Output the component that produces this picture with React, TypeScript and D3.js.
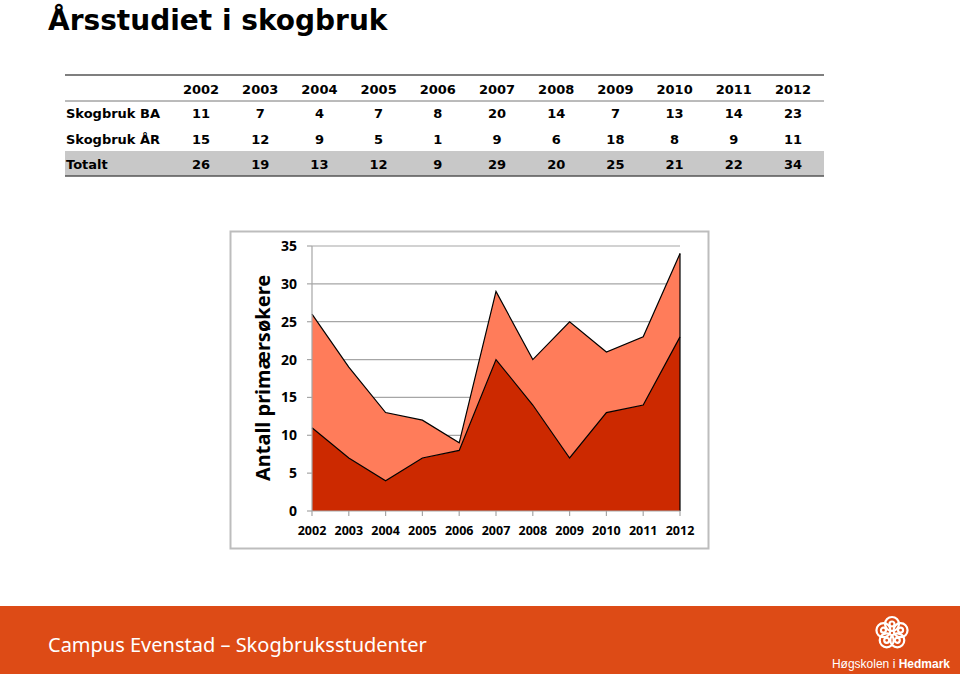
import React from "react";
import * as d3 from "d3";

const years = ["2002", "2003", "2004", "2005", "2006", "2007", "2008", "2009", "2010", "2011", "2012"];
const skogbrukBA = [11, 7, 4, 7, 8, 20, 14, 7, 13, 14, 23];
const skogbrukAR = [15, 12, 9, 5, 1, 9, 6, 18, 8, 9, 11];
const totalt = [26, 19, 13, 12, 9, 29, 20, 25, 21, 22, 34];
const rowLabels = ["Skogbruk BA", "Skogbruk ÅR", "Totalt"];
const yTicks = [0, 5, 10, 15, 20, 25, 30, 35];

const W = 960;
const H = 674;

export default function App() {
  // table
  const colX = d3.scalePoint<string>().domain(years).range([201, 793]);
  const rows = [skogbrukBA, skogbrukAR, totalt];
  const rowY = [113, 139, 164];
  const tableFont = "Verdana, 'DejaVu Sans', sans-serif";

  // chart
  const x = d3.scalePoint<string>().domain(years).range([312, 680]);
  const y = d3.scaleLinear().domain([0, 35]).range([511, 246]);
  const data = years.map((yr, i) => ({ year: yr, ba: skogbrukBA[i], ar: skogbrukAR[i] }));
  const stack = d3.stack<any>().keys(["ba", "ar"]);
  const series = stack(data);
  const area = d3
    .area<any>()
    .x((d) => x(d.data.year) as number)
    .y0((d) => y(d[0]))
    .y1((d) => y(d[1]));
  const line = d3
    .line<any>()
    .x((d) => x(d.data.year) as number)
    .y((d) => y(d[1]));
  const colors = ["#CC2900", "#FF7C5A"];
  const chartFont = "'Noto Sans', 'Open Sans', sans-serif";

  return (
    <div style={{ position: "fixed", left: 0, top: 0, width: W, height: H, background: "#fff" }}>
      <svg width={W} height={H} style={{ display: "block" }}>
        {/* Title */}
        <text x={48} y={30} fontFamily={tableFont} fontWeight="bold" fontSize={28} fill="#000">
          Årsstudiet i skogbruk
        </text>

        {/* Table */}
        <rect x={65} y={151} width={759} height={25} fill="#C8C8C8" />
        <line x1={65} x2={824} y1={75} y2={75} stroke="#555" strokeWidth={1.5} />
        <line x1={65} x2={824} y1={101} y2={101} stroke="#777" strokeWidth={1} />
        <line x1={65} x2={824} y1={176} y2={176} stroke="#555" strokeWidth={1.5} />
        {years.map((yr) => (
          <text key={yr} x={colX(yr)} y={94} textAnchor="middle" fontFamily={tableFont} fontWeight="bold" fontSize={13} fill="#000">
            {yr}
          </text>
        ))}
        {rows.map((r, ri) => (
          <g key={ri}>
            <text x={66} y={rowY[ri] + 5} fontFamily={tableFont} fontWeight="bold" fontSize={13} fill="#000">
              {rowLabels[ri]}
            </text>
            {r.map((v, ci) => (
              <text key={ci} x={colX(years[ci])} y={rowY[ri] + 5} textAnchor="middle" fontFamily={tableFont} fontWeight="bold" fontSize={13} fill="#000">
                {v}
              </text>
            ))}
          </g>
        ))}

        {/* Chart frame */}
        <rect x={230.5} y={231.5} width={478} height={317} fill="#fff" stroke="#BDBDBD" strokeWidth={2} />

        {/* gridlines */}
        {yTicks.slice(1).map((t) => (
          <line key={t} x1={312} x2={680} y1={y(t)} y2={y(t)} stroke="#A6A6A6" strokeWidth={1.2} />
        ))}

        {/* areas */}
        {series.map((s, i) => (
          <path key={s.key} d={area(s as any) || ""} fill={colors[i]} />
        ))}
        {series.map((s) => (
          <path key={"l" + s.key} d={line(s as any) || ""} fill="none" stroke="#000" strokeWidth={1.2} />
        ))}
        {/* right edge of areas */}
        <line x1={680} x2={680} y1={y(0)} y2={y(totalt[totalt.length - 1])} stroke="#000" strokeWidth={1.2} />

        {/* y axis */}
        <line x1={312} x2={312} y1={y(0)} y2={y(35)} stroke="#A6A6A6" strokeWidth={1.2} />
        {yTicks.map((t) => (
          <g key={t}>
            <line x1={307} x2={312} y1={y(t)} y2={y(t)} stroke="#A6A6A6" strokeWidth={1.2} />
            <text x={297} y={y(t) + 5} textAnchor="end" fontFamily={chartFont} fontWeight="bold" fontSize={14} fill="#000">
              {t}
            </text>
          </g>
        ))}

        {/* x axis */}
        <line x1={312} x2={680} y1={y(0)} y2={y(0)} stroke="#A6A6A6" strokeWidth={1.2} />
        {years.map((yr) => (
          <g key={yr}>
            <line x1={x(yr)} x2={x(yr)} y1={y(0)} y2={y(0) + 5} stroke="#A6A6A6" strokeWidth={1.2} />
            <text x={x(yr)} y={535} textAnchor="middle" fontFamily={chartFont} fontWeight="bold" fontSize={12.5} fill="#000">
              {yr}
            </text>
          </g>
        ))}

        {/* y title */}
        <text
          transform={`translate(270, 378) rotate(-90)`}
          textAnchor="middle"
          fontFamily={chartFont}
          fontWeight="bold"
          fontSize={20}
          fill="#000"
        >
          Antall primærsøkere
        </text>

        {/* Footer */}
        <rect x={0} y={606} width={W} height={68} fill="#DD4B16" />
        <text x={48} y={652} fontFamily="'Noto Sans', sans-serif" fontSize={20} fill="#fff">
          Campus Evenstad – Skogbruksstudenter
        </text>
        <g transform="translate(892, 633)" fill="none" stroke="#fff" strokeWidth={2.2}>
          {[0, 1, 2, 3, 4].map((k) => {
            const a = (k * 72 - 90) * (Math.PI / 180);
            return <circle key={k} cx={Math.cos(a) * 9} cy={Math.sin(a) * 9} r={7} />;
          })}
          {[0, 1, 2, 3, 4].map((k) => {
            const a = (k * 72 - 90) * (Math.PI / 180);
            return <circle key={"i" + k} cx={Math.cos(a) * 9} cy={Math.sin(a) * 9} r={2.5} />;
          })}
        </g>
        <text x={950} y={668} textAnchor="end" fontFamily="'Liberation Sans', Arial, sans-serif" fontSize={12} fill="#fff">
          Høgskolen i <tspan fontWeight="bold">Hedmark</tspan>
        </text>
      </svg>
    </div>
  );
}
